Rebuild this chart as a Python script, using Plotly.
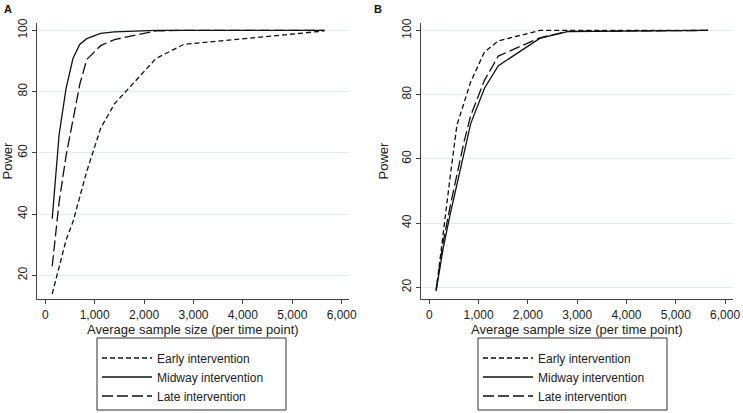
import plotly.graph_objects as go

# Average sample size (per time point)
sample_size = [140, 280, 420, 560, 700, 840, 1120, 1400, 2240, 2800, 5650]

# Panel A power (%)
a_early = [14, 23, 31.5, 37.5, 46, 54, 68, 76, 90.8, 95.4, 99.8]
a_midway = [38.5, 66, 81, 90.8, 95.5, 97.3, 99, 99.5, 100, 100, 100]
a_late = [23, 44, 59, 71, 82.5, 90.5, 95, 97, 99.8, 100, 100]

# Panel B power (%)
b_early = [19, 37, 54, 70.5, 77.5, 84, 93.3, 96.7, 100, 100, 100]
b_midway = [19, 32, 42.5, 52, 62.5, 71, 82, 89, 97.5, 99.6, 100]
b_late = [19.5, 34, 45, 55, 65, 73.5, 84.5, 92, 97.7, 99.7, 100]

series_names = ["Early intervention", "Midway intervention", "Late intervention"]
dashes = ["5px,3px", "solid", "11px,4px"]
y_ticks = [20, 40, 60, 80, 100]
x_ticks = [0, 1000, 2000, 3000, 4000, 5000, 6000]

FONT = "Liberation Sans, Arial, sans-serif"
LINE_COLOR = "#111111"
W, H = 743, 413

fig = go.Figure()

panels = [
    ("x", "y", "legend", [a_early, a_midway, a_late]),
    ("x2", "y2", "legend2", [b_early, b_midway, b_late]),
]
for xa, ya, lg, ys in panels:
    for name, dash, yv in zip(series_names, dashes, ys):
        fig.add_trace(go.Scatter(
            x=sample_size, y=yv, mode="lines", name=name,
            line=dict(color=LINE_COLOR, width=1.3, dash=dash),
            xaxis=xa, yaxis=ya, legend=lg, showlegend=True,
        ))

def px_x(v):
    return v / W

def px_y(v):
    return 1 - v / H

axis_common = dict(
    showline=True, linecolor="#444444", linewidth=1,
    ticks="outside", ticklen=4, tickcolor="#444444", tickwidth=1,
    tickfont=dict(family=FONT, size=12, color="#222222"),
    zeroline=False, automargin=False,
)
xcommon = dict(axis_common, tickvals=x_ticks, tickformat=",d", showgrid=False,
               title=dict(text="Average sample size (per time point)",
                          font=dict(family=FONT, size=13, color="#222222"), standoff=3))
ycommon = dict(axis_common, tickvals=y_ticks, tickangle=-90, showgrid=True,
               gridcolor="#e4ecec", gridwidth=1, ticklabelstandoff=0,
               title=dict(text="Power", font=dict(family=FONT, size=13, color="#222222"), standoff=8))

legend_common = dict(xanchor="left", yanchor="middle",
                     bgcolor="rgba(0,0,0,0)", borderwidth=0, itemwidth=50,
                     font=dict(family=FONT, size=12, color="#222222"), tracegroupgap=0)

fig.update_layout(
    width=W, height=H,
    margin=dict(l=0, r=0, t=0, b=0),
    paper_bgcolor="white", plot_bgcolor="white",
    font=dict(family=FONT, color="#222222"),
    xaxis=dict(xcommon, domain=[px_x(36.7), px_x(349)], range=[-174, 6148], anchor="y"),
    yaxis=dict(ycommon, domain=[px_y(299.3), px_y(22.7)], range=[12.2, 102.5], anchor="x"),
    xaxis2=dict(xcommon, domain=[px_x(420.7), px_x(733)], range=[-174, 6160], anchor="y2"),
    yaxis2=dict(ycommon, domain=[px_y(299.3), px_y(22.7)], range=[16.3, 102.4], anchor="x2"),
    legend=dict(legend_common, x=px_x(97), y=px_y(377)),
    legend2=dict(legend_common, x=px_x(478), y=px_y(377)),
    annotations=[
        dict(text="<b>A</b>", x=px_x(2), y=px_y(1), xref="paper", yref="paper",
             xanchor="left", yanchor="top", showarrow=False,
             font=dict(family=FONT, size=11, color="#111111")),
        dict(text="<b>B</b>", x=px_x(372), y=px_y(1), xref="paper", yref="paper",
             xanchor="left", yanchor="top", showarrow=False,
             font=dict(family=FONT, size=11, color="#111111")),
    ],
    shapes=[
        dict(type="rect", xref="paper", yref="paper",
             x0=px_x(97), x1=px_x(286), y0=px_y(410), y1=px_y(338),
             line=dict(color="#333333", width=1)),
        dict(type="rect", xref="paper", yref="paper",
             x0=px_x(478), x1=px_x(667), y0=px_y(410), y1=px_y(338),
             line=dict(color="#333333", width=1)),
    ],
)

fig.write_html("out.html", config={"displayModeBar": False},
               post_script="document.body.style.margin='0px';")
